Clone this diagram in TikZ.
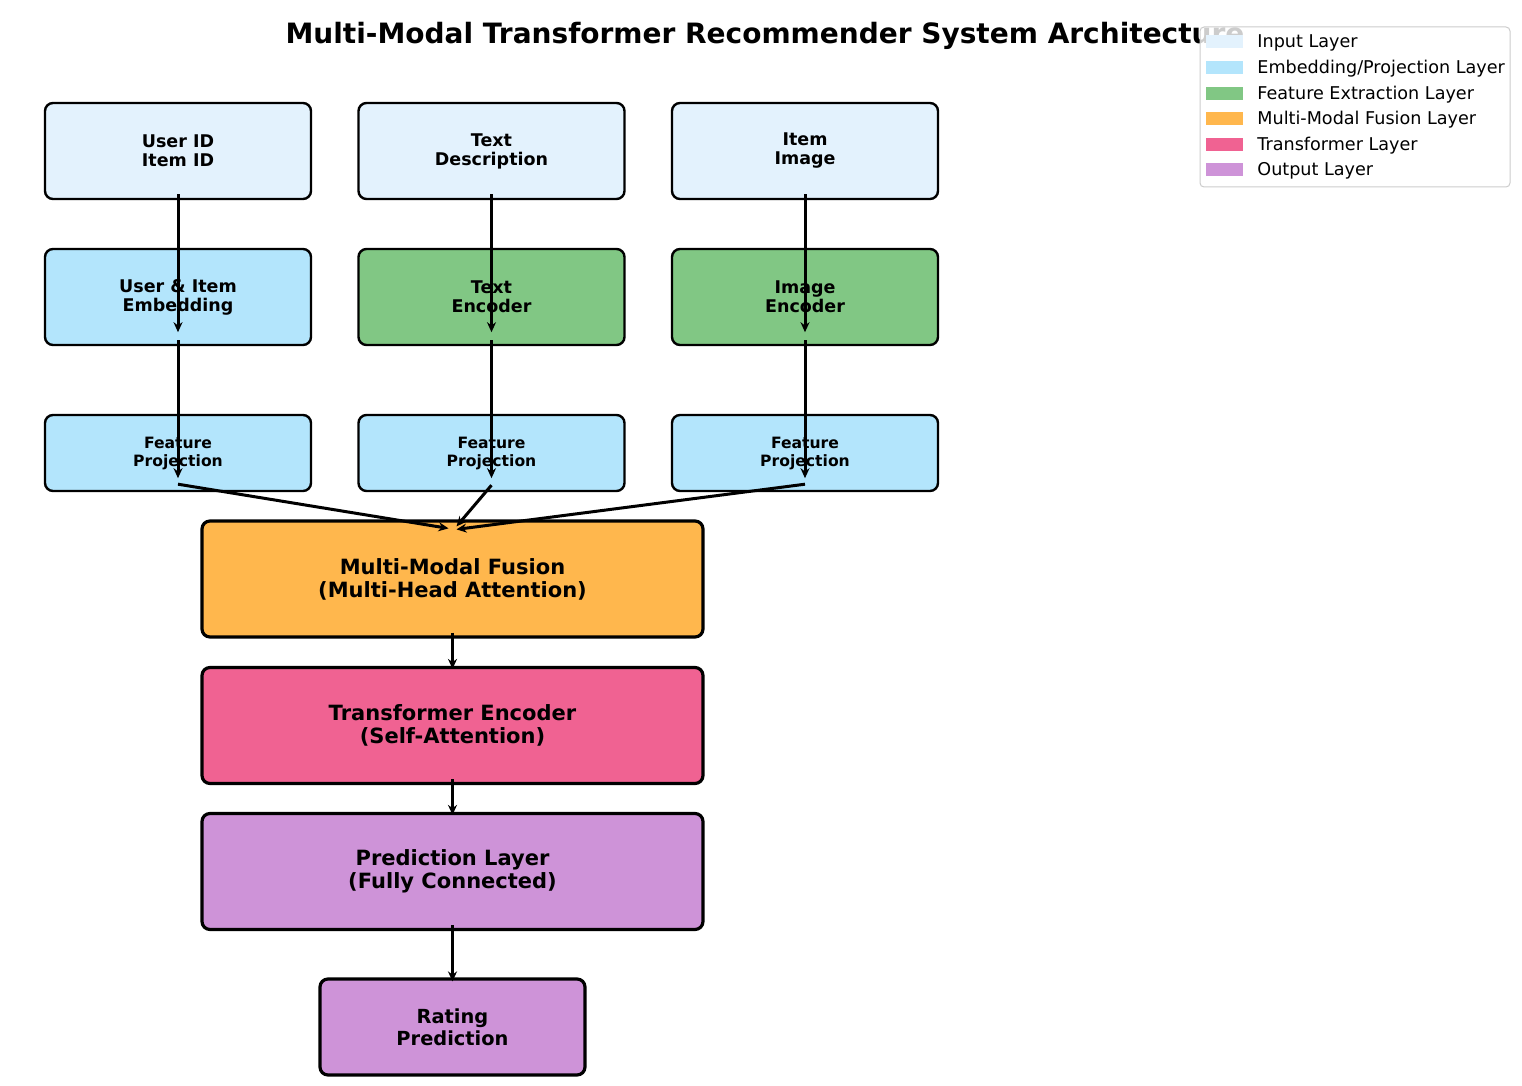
\documentclass[tikz,border=0pt]{standalone}
\usepackage{fontspec}
\setmainfont{DejaVu Sans}
\usetikzlibrary{arrows.meta,calc}
\definecolor{inputc}{HTML}{E3F2FD}
\definecolor{embc}{HTML}{B3E5FC}
\definecolor{featc}{HTML}{81C784}
\definecolor{fusc}{HTML}{FFB74D}
\definecolor{transc}{HTML}{F06292}
\definecolor{outc}{HTML}{CE93D8}
\definecolor{legframe}{HTML}{CCCCCC}
\begin{document}
\begin{tikzpicture}[x=0.5pt,y=-0.5pt,
  box/.style={draw=black, rounded corners=4pt, line width=1.2pt, align=center, inner sep=0pt,
    font=\bfseries\fontsize{8.75}{9.5}\selectfont},
  topbox/.style={box, minimum width=133pt, minimum height=48pt},
  projbox/.style={box, minimum width=133pt, minimum height=38pt, font=\bfseries\fontsize{7.8}{9}\selectfont},
  bigbox/.style={box, line width=1.6pt, minimum width=250.5pt, minimum height=58pt,
    font=\bfseries\fontsize{10.5}{11.5}\selectfont},
  ratebox/.style={box, line width=1.6pt, minimum width=132.5pt, minimum height=48pt,
    font=\bfseries\fontsize{9.7}{11}\selectfont},
  flow/.style={-{Stealth[length=5pt,width=4.5pt]}, line width=1.5pt},
  legtext/.style={anchor=west, inner sep=0pt, font=\fontsize{8.8}{10}\selectfont}
]
\useasboundingbox (0,0) rectangle (1522,1086);

% title
\node[font=\bfseries\fontsize{14}{16}\selectfont] (title) at (765,36) {Multi-Modal Transformer Recommender System Architecture};

% row 1
\node[topbox, fill=inputc] (uid) at (178,151) {User ID\\Item ID};
\node[topbox, fill=inputc] (txt) at (491.5,151) {Text\\Description};
\node[topbox, fill=inputc] (img) at (805,151) {Item\\Image};
% row 2
\node[topbox, fill=embc] (emb) at (178,297) {User \& Item\\Embedding};
\node[topbox, fill=featc] (tenc) at (491.5,297) {Text\\Encoder};
\node[topbox, fill=featc] (ienc) at (805,297) {Image\\Encoder};
% row 3
\node[projbox, fill=embc] (p1) at (178,453) {Feature\\Projection};
\node[projbox, fill=embc] (p2) at (491.5,453) {Feature\\Projection};
\node[projbox, fill=embc] (p3) at (805,453) {Feature\\Projection};
% lower stack
\node[bigbox, fill=fusc] (fus) at (452.5,579) {Multi-Modal Fusion\\(Multi-Head Attention)};
\node[bigbox, fill=transc] (tra) at (452.5,725.5) {Transformer Encoder\\(Self-Attention)};
\node[bigbox, fill=outc] (pre) at (452.5,871.5) {Prediction Layer\\(Fully Connected)};
\node[ratebox, fill=outc] (rat) at (452.5,1027) {Rating\\Prediction};

% arrows
\draw[flow] ($(uid.south)+(0,-6)$) -- ($(emb.south)+(0,-14)$);
\draw[flow] ($(txt.south)+(0,-6)$) -- ($(tenc.south)+(0,-14)$);
\draw[flow] ($(img.south)+(0,-6)$) -- ($(ienc.south)+(0,-14)$);
\draw[flow] ($(emb.south)+(0,-6)$) -- ($(p1.south)+(0,-14)$);
\draw[flow] ($(tenc.south)+(0,-6)$) -- ($(p2.south)+(0,-14)$);
\draw[flow] ($(ienc.south)+(0,-6)$) -- ($(p3.south)+(0,-14)$);
\draw[flow] ($(p1.south)+(0,-8)$) -- ($(fus.north)+(-4,9)$);
\draw[flow] ($(p2.south)+(0,-7)$) -- ($(fus.north)+(4,7)$);
\draw[flow] ($(p3.south)+(0,-8)$) -- ($(fus.north)+(4,10)$);
\draw[flow] ($(fus.south)+(0,-6)$) -- ($(tra.north)+(0,3)$);
\draw[flow] ($(tra.south)+(0,-6)$) -- ($(pre.north)+(0,3)$);
\draw[flow] ($(pre.south)+(0,-6)$) -- ($(rat.north)+(0,4)$);

% legend
\draw[draw=legframe, line width=0.5pt, fill=white, fill opacity=0.8, rounded corners=2pt] (1200,27) rectangle (1510,187);
\foreach \c/\t [count=\i from 0] in {inputc/Input Layer, embc/Embedding\slash Projection Layer, featc/Feature Extraction Layer, fusc/Multi-Modal Fusion Layer, transc/Transformer Layer, outc/Output Layer}{
  \fill[\c] (1206,{42+25.6*\i-6.5}) rectangle (1243,{42+25.6*\i+6.5});
  \node[legtext] (leg\i) at (1257,{43+25.6*\i}) {\t};
}
\end{tikzpicture}
\end{document}
